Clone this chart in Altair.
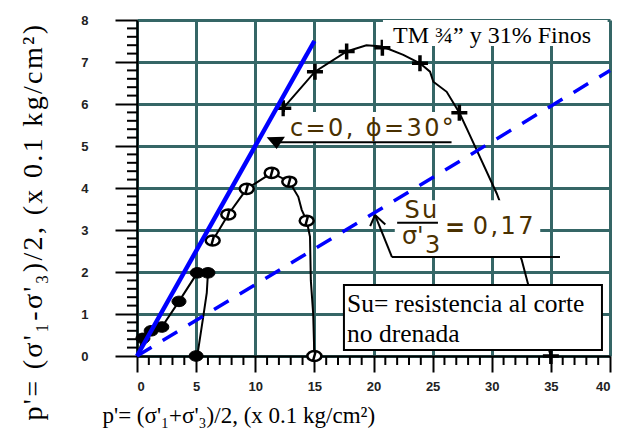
import altair as alt
import pandas as pd

# ---------------- data ----------------
x_ticks = [0, 5, 10, 15, 20, 25, 30, 35, 40]
y_ticks = [0, 1, 2, 3, 4, 5, 6, 7, 8]

# failure envelope c=0, phi=30 deg  and  Su/sigma'3 = 0.17 line
env_p = [0, 15]
env_q = [0, 7.5]
su_p = [0, 40]
su_q = [0, 6.8]

# stress path A (filled markers), p0 = 5
a_line_p = [5.0, 5.15, 5.6, 5.9, 6.0, 5.1, 3.55, 2.1, 1.2, 0.5, 0.1]
a_line_q = [0.0, 0.1, 0.93, 1.5, 1.98, 1.98, 1.3, 0.69, 0.6, 0.42, 0.05]
a_pt_p = [5.0, 6.0, 5.1, 3.55, 2.1, 1.2, 0.5]
a_pt_q = [0.0, 1.98, 1.98, 1.3, 0.69, 0.6, 0.42]

# stress path B (open circles), p0 = 15
b_line_p = [15.0, 14.9, 14.7, 14.63, 14.35, 13.93, 13.64, 12.88, 11.39, 9.28, 7.72, 6.40]
b_line_q = [0.0, 1.0, 1.8, 2.84, 3.22, 3.48, 3.79, 4.15, 4.36, 3.98, 3.37, 2.75]
b_pt_p = [15.0, 14.35, 12.88, 11.39, 9.28, 7.72, 6.40]
b_pt_q = [0.0, 3.22, 4.15, 4.36, 3.98, 3.37, 2.75]

# stress path C (crosses), p0 = 35
c_line_p = [35.0, 33.09, 32.53, 30.42, 28.73, 27.88, 27.26, 26.19, 25.06, 24.78,
            23.93, 22.52, 20.75, 19.4, 17.73, 15.05, 12.37]
c_line_q = [0.0, 1.69, 2.29, 3.87, 4.90, 5.42, 5.79, 6.29, 6.53, 6.77,
            6.97, 7.17, 7.37, 7.40, 7.25, 6.77, 5.90]
c_pt_p = [35.0, 27.26, 23.93, 20.75, 17.73, 15.05, 12.37]
c_pt_q = [0.0, 5.79, 6.97, 7.34, 7.25, 6.77, 5.90]

# annotation boxes (white backgrounds)
box_x1 = [20.8, 12.5, 21.8]
box_x2 = [39.8, 26.5, 34.1]
box_y1 = [8.0, 5.1, 2.36]
box_y2 = [7.38, 5.81, 3.71]

# framed note box
fbox_x1 = [17.5]
fbox_x2 = [39.32]
fbox_y1 = [1.69]
fbox_y2 = [0.14]

# annotation line segments
seg_x1 = [11.9, 21.56, 21.56, 20.13, 20.13, 22.0]
seg_x2 = [26.6, 35.77, 20.13, 19.72, 21.0, 25.45]
seg_y1 = [5.09, 2.357, 2.357, 3.357, 3.357, 3.17]
seg_y2 = [5.09, 2.357, 3.357, 3.09, 3.13, 3.17]

minor_x = [v for v in range(0, 41) if v % 5 != 0]
minor_y = [round(v * 0.2, 2) for v in range(0, 41) if v % 5 != 0]

# ---------------- styling ----------------
GRID = "#356666"
ANN = "#4a3000"
HS = "\u200a"  # hair space used to widen letter spacing


def spaced(s):
    return HS.join(s)


xs = alt.Scale(domain=[0, 40], nice=False, zero=False)
ys = alt.Scale(domain=[0, 8], nice=False, zero=False)

xaxis = alt.Axis(values=x_ticks, grid=True, gridColor=GRID, gridWidth=3, gridOpacity=1,
                 domainColor="black", domainWidth=2, tickColor="black", tickWidth=2,
                 tickSize=16, labelFont="Liberation Sans", labelFontSize=13,
                 labelFontWeight="bold", labelColor="#222222", labelPadding=8,
                 title="p'= (σ'₁+σ'₃)/2, (x 0.1 kg/cm²)", titleFont="Liberation Serif",
                 titleFontSize=23, titleFontWeight="normal", titleColor="black",
                 titleAlign="left", titleAnchor="start", titleX=-35, titleY=66,
                 titleBaseline="alphabetic")
yaxis = alt.Axis(values=y_ticks, grid=True, gridColor=GRID, gridWidth=3, gridOpacity=1,
                 domainColor="black", domainWidth=2, tickColor="black", tickWidth=2,
                 tickSize=22, labelFont="Liberation Sans", labelFontSize=13,
                 labelFontWeight="bold", labelColor="#222222", labelPadding=27,
                 title=spaced("p'= (σ'₁-σ'₃)/2, (x 0.1 kg/cm²)"), titleFont="Liberation Serif",
                 titleFontSize=28, titleFontWeight="normal", titleColor="black",
                 titleAngle=270, titleAlign="left", titleAnchor="start",
                 titleX=-96, titleY=400, titleBaseline="alphabetic")


def X(f):
    return alt.X(f, type="quantitative", scale=xs, axis=xaxis)


def Y(f):
    return alt.Y(f, type="quantitative", scale=ys, axis=yaxis)


def path_df(px, py):
    return pd.DataFrame({"x": px, "y": py, "i": list(range(len(px)))})


def pts_df(px, py):
    return pd.DataFrame({"x": px, "y": py})


# minor ticks
mx = alt.Chart(pd.DataFrame({"x": minor_x})).mark_rule(color="black", strokeWidth=2).encode(
    x=X("x"), y=alt.value(336), y2=alt.value(345))
my = alt.Chart(pd.DataFrame({"y": minor_y})).mark_rule(color="black", strokeWidth=2).encode(
    y=Y("y"), x=alt.value(0), x2=alt.value(-10))


def path_line(px, py):
    return alt.Chart(path_df(px, py)).mark_line(color="black", strokeWidth=2).encode(
        x=X("x"), y=Y("y"), order=alt.Order("i:Q"))


la = path_line(a_line_p, a_line_q)
lb = path_line(b_line_p, b_line_q)
lc = path_line(c_line_p, c_line_q)

ELL = "M-1,0 A1,0.75 0 1,0 1,0 A1,0.75 0 1,0 -1,0 Z"
ELL_O = "M-1,0 A1,0.72 0 1,0 1,0 A1,0.72 0 1,0 -1,0 Z M-0.2,0.72 L0.2,-0.72"
PLUS = "M-1,0 L1,0 M0,-1 L0,1"

pa = alt.Chart(pts_df(a_pt_p, a_pt_q)).mark_point(
    shape=ELL, filled=True, fill="black", stroke="black", strokeWidth=1, size=196, opacity=1
).encode(x=X("x"), y=Y("y"))
pb = alt.Chart(pts_df(b_pt_p, b_pt_q)).mark_point(
    shape=ELL_O, filled=False, fill="white", fillOpacity=1, stroke="black", strokeWidth=2.5,
    size=196, opacity=1
).encode(x=X("x"), y=Y("y"))
pc = alt.Chart(pts_df(c_pt_p, c_pt_q)).mark_point(
    shape=PLUS, filled=False, stroke="black", strokeWidth=3.5, size=256, opacity=1
).encode(x=X("x"), y=Y("y"))

boxes = alt.Chart(pd.DataFrame({"x1": box_x1, "x2": box_x2, "y1": box_y1, "y2": box_y2})).mark_rect(
    fill="white").encode(x=X("x1"), x2="x2", y=Y("y1"), y2="y2")
fbox = alt.Chart(pd.DataFrame({"x1": fbox_x1, "x2": fbox_x2, "y1": fbox_y1, "y2": fbox_y2})).mark_rect(
    fill="white", stroke="black", strokeWidth=2).encode(x=X("x1"), x2="x2", y=Y("y1"), y2="y2")

env = alt.Chart(path_df(env_p, env_q)).mark_line(color="#0000ff", strokeWidth=4.5).encode(
    x=X("x"), y=Y("y"), order=alt.Order("i:Q"))
sul = alt.Chart(path_df(su_p, su_q)).mark_line(color="#0000ff", strokeWidth=3.5,
                                              strokeDash=[17, 13]).encode(
    x=X("x"), y=Y("y"), order=alt.Order("i:Q"))

segs = alt.Chart(pd.DataFrame({"x1": seg_x1, "x2": seg_x2, "y1": seg_y1, "y2": seg_y2})).mark_rule(
    color="black", strokeWidth=2).encode(x=X("x1"), x2="x2", y=Y("y1"), y2="y2")
arrow = alt.Chart(pts_df([11.75], [5.12])).mark_point(
    shape="M-1.03,-0.41 L1,-0.48 L0.08,0.89 Z", filled=True, fill="black", size=324, opacity=1
).encode(x=X("x"), y=Y("y"))


def txt(x, y, t, **kw):
    return alt.Chart(pd.DataFrame({"x": [x], "y": [y], "t": [t]})).mark_text(
        baseline="alphabetic", **kw).encode(x=X("x"), y=Y("y"), text="t:N")


t_title = txt(21.65, 7.45, "TM ¾” y 31% Finos", align="left", font="Liberation Serif",
              fontSize=24, color="black")
t_env = txt(12.94, 5.23, spaced("c=0, ϕ=30°"), align="left", font="DejaVu Sans",
            fontSize=24, color=ANN)
t_su = txt(24.0, 3.29, spaced("Su"), align="center", font="DejaVu Sans", fontSize=24, color=ANN)
t_sig = txt(22.4, 2.67, "σ'", align="left", font="DejaVu Sans", fontSize=24, color=ANN)
t_3 = txt(24.35, 2.45, "3", align="left", font="DejaVu Sans", fontSize=24, color=ANN)
t_eq = txt(26.05, 2.86, "=", align="left", font="DejaVu Sans", fontSize=24,
           fontWeight="bold", color=ANN)
t_val = txt(28.4, 2.905, spaced("0,17"), align="left", font="DejaVu Sans", fontSize=24, color=ANN)
t_b1 = txt(17.76, 1.05, "Su= resistencia al corte", align="left", font="Liberation Serif",
           fontSize=25.5, color="black")
t_b2 = txt(17.76, 0.33, "no drenada", align="left", font="Liberation Serif",
           fontSize=25.5, color="black")

chart = alt.layer(
    mx, my, la, lb, lc, pa, pb, pc, boxes, fbox, env, sul, segs, arrow,
    t_title, t_env, t_su, t_sig, t_3, t_eq, t_val, t_b1, t_b2
).properties(
    width=473, height=336,
    autosize=alt.AutoSizeParams(type="none"),
    padding={"left": 129, "top": 12, "right": 3, "bottom": 72},
    background="white",
).configure_view(stroke="transparent")

chart.save("out.html", embed_options={"renderer": "svg", "actions": False})
